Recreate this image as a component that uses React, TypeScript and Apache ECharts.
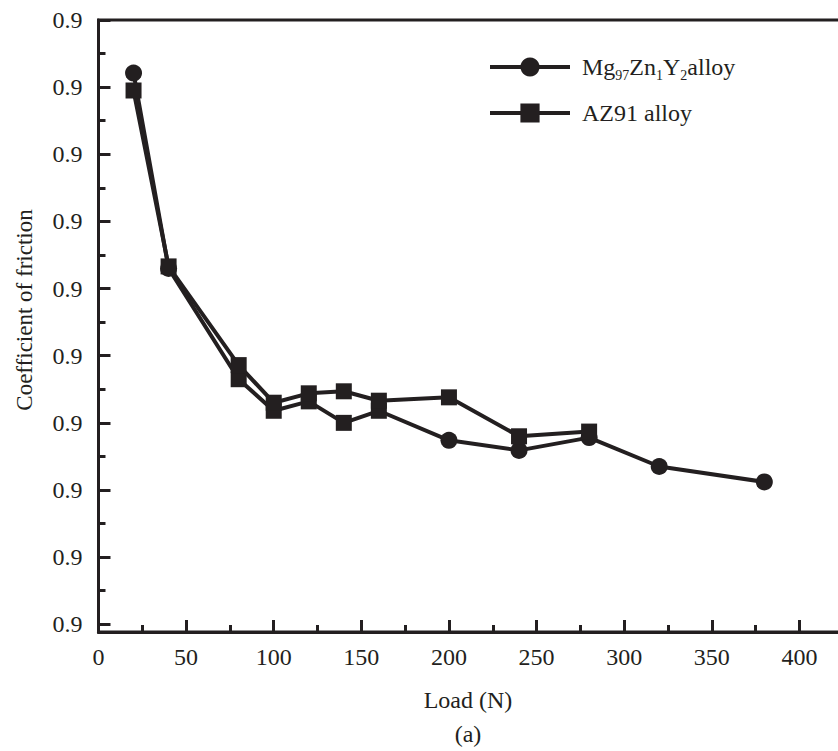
import React, { useEffect, useRef } from "react";
import * as echarts from "echarts";

// ---- data ----
const mgLoads = [20, 40, 80, 100, 120, 140, 160, 200, 240, 280, 320, 380];
const mgCof = [0.821, 0.53, 0.365, 0.318, 0.332, 0.3, 0.318, 0.274, 0.259, 0.278, 0.235, 0.212];
const mgSymbols = ["circle", "circle", "rect", "rect", "rect", "rect", "rect", "circle", "circle", "circle", "circle", "circle"];

const azLoads = [20, 40, 80, 100, 120, 140, 160, 200, 240, 280];
const azCof = [0.795, 0.533, 0.386, 0.33, 0.344, 0.347, 0.333, 0.338, 0.28, 0.287];

const yTickValues = [0, 0.1, 0.2, 0.3, 0.4, 0.5, 0.6, 0.7, 0.8, 0.9];
const yTickLabels = ["0.9", "0.9", "0.9", "0.9", "0.9", "0.9", "0.9", "0.9", "0.9", "0.9"];
const yMinorTickValues = [0.05, 0.15, 0.25, 0.35, 0.45, 0.55, 0.65, 0.75, 0.85];

const seriesNames = ["Mg97Zn1Y2alloy", "AZ91 alloy"];
const xAxisTitle = "Load (N)";
const yAxisTitle = "Coefficient of friction";
const panelLabel = "(a)";

const INK = "#231f20";
const FONT = "Liberation Serif";
const CHART_W = 887;

export default function App() {
  const ref = useRef<HTMLDivElement>(null);

  useEffect(() => {
    if (!ref.current) return;
    const chart = echarts.init(ref.current, null, { renderer: "svg" });

    const option: any = {
      animation: false,
      backgroundColor: "#ffffff",
      textStyle: { fontFamily: FONT },
      grid: {
        left: 98.5,
        right: 0,
        top: 20,
        bottom: 119,
        outerBoundsMode: "none",
        containLabel: false,
        show: true,
        borderColor: INK,
        borderWidth: 3,
        backgroundColor: "transparent",
      },
      legend: {
        orient: "vertical",
        left: 488,
        top: 55,
        padding: 0,
        itemWidth: 80,
        itemHeight: 24,
        itemGap: 19,
        data: seriesNames,
        lineStyle: { width: 4, color: INK },
        textStyle: {
          fontFamily: FONT,
          fontSize: 24,
          color: INK,
          padding: [0, 0, 0, 7],
          rich: {
            n: { fontFamily: FONT, fontSize: 24, color: INK },
            s: { fontFamily: FONT, fontSize: 14, color: INK, verticalAlign: "bottom", padding: [0, 0, -3, 0] },
          },
        },
        formatter: (name: string) =>
          name === seriesNames[0]
            ? "{n|Mg}{s|97}{n|Zn}{s|1}{n|Y}{s|2}{n|alloy}"
            : "{n|" + name + "}",
      },
      xAxis: {
        type: "value",
        min: 0,
        max: 450,
        interval: 50,
        axisLine: { show: true, onZero: false, lineStyle: { color: INK, width: 3 } },
        axisTick: { show: true, inside: true, length: 12, lineStyle: { color: INK, width: 3 } },
        minorTick: { show: true, splitNumber: 2, length: 7, lineStyle: { color: INK, width: 3 } },
        splitLine: { show: false },
        axisLabel: { color: INK, fontFamily: FONT, fontSize: 24, margin: 13, showMaxLabel: false },
      },
      yAxis: [
        {
          type: "value",
          min: -0.0115,
          max: 0.9,
          axisLine: { show: true, onZero: false, lineStyle: { color: INK, width: 3 } },
          axisTick: {
            show: true,
            inside: true,
            length: 12,
            customValues: yTickValues,
            lineStyle: { color: INK, width: 3 },
          },
          splitLine: { show: false },
          axisLabel: {
            customValues: yTickValues,
            color: INK,
            fontFamily: FONT,
            fontSize: 24,
            margin: 16,
            formatter: (v: number) => yTickLabels[Math.round(v * 10)] ?? "",
          },
        },
        {
          type: "value",
          position: "left",
          min: -0.0115,
          max: 0.9,
          axisLine: { show: false, onZero: false },
          axisTick: {
            show: true,
            inside: true,
            length: 7,
            customValues: yMinorTickValues,
            lineStyle: { color: INK, width: 3 },
          },
          axisLabel: { show: false },
          splitLine: { show: false },
        },
      ],
      series: [
        {
          name: seriesNames[0],
          type: "line",
          symbol: "circle",
          symbolSize: 17,
          yAxisIndex: 0,
          data: mgLoads.map((x, i) => ({
            value: [x, mgCof[i]],
            symbol: mgSymbols[i],
            symbolSize: mgSymbols[i] === "rect" ? 16 : 17,
          })),
          lineStyle: { color: INK, width: 4 },
          itemStyle: { color: INK },
          z: 2,
        },
        {
          name: seriesNames[1],
          type: "line",
          symbol: "rect",
          symbolSize: 16,
          yAxisIndex: 0,
          data: azLoads.map((x, i) => [x, azCof[i]]),
          lineStyle: { color: INK, width: 4 },
          itemStyle: { color: INK },
          z: 3,
        },
      ],
      graphic: [
        {
          type: "text",
          x: 24,
          y: 310,
          rotation: Math.PI / 2,
          style: {
            text: yAxisTitle,
            fontFamily: FONT,
            fontSize: 23,
            fill: INK,
            align: "center",
            verticalAlign: "middle",
          },
        },
        {
          type: "text",
          x: 468,
          y: 700,
          style: {
            text: xAxisTitle,
            fontFamily: FONT,
            fontSize: 24,
            fill: INK,
            align: "center",
            verticalAlign: "middle",
          },
        },
        {
          type: "text",
          x: 468,
          y: 734,
          style: {
            text: panelLabel,
            fontFamily: FONT,
            fontSize: 24,
            fill: INK,
            align: "center",
            verticalAlign: "middle",
          },
        },
      ],
    };

    chart.setOption(option);
    return () => chart.dispose();
  }, []);

  return (
    <div style={{ position: "fixed", left: 0, top: 0, width: 838, height: 751, overflow: "hidden", background: "#fff" }}>
      <div ref={ref} style={{ width: CHART_W, height: 751 }} />
    </div>
  );
}
